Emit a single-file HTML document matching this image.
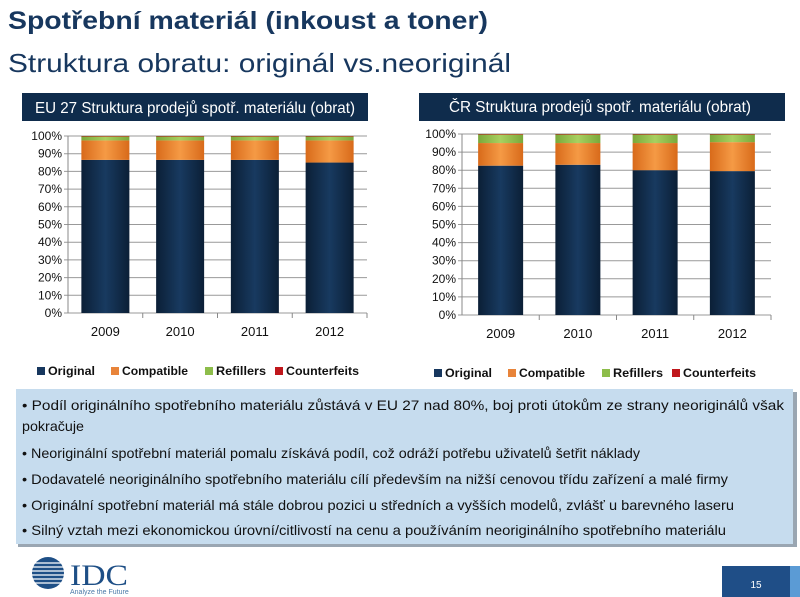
<!DOCTYPE html>
<html><head><meta charset="utf-8"><style>
body{margin:0;background:#fff;}
svg{display:block;font-family:"Liberation Sans",sans-serif;}
</style></head><body>
<svg id="s" width="800" height="597" viewBox="0 0 800 597">
<defs>
<linearGradient id="gNavy" x1="0" x2="1"><stop offset="0" stop-color="#0b1f36"/><stop offset="0.5" stop-color="#183a60"/><stop offset="1" stop-color="#0b1f36"/></linearGradient>
<linearGradient id="gOr" x1="0" x2="1"><stop offset="0" stop-color="#d86a1a"/><stop offset="0.5" stop-color="#f59a45"/><stop offset="1" stop-color="#d86a1a"/></linearGradient>
<linearGradient id="gGr" x1="0" x2="1"><stop offset="0" stop-color="#7aa83a"/><stop offset="0.5" stop-color="#a8d060"/><stop offset="1" stop-color="#7aa83a"/></linearGradient>
<linearGradient id="gRd" x1="0" x2="1"><stop offset="0" stop-color="#a01010"/><stop offset="1" stop-color="#d02020"/></linearGradient>
</defs>
<text x="8" y="29" font-size="25" font-weight="bold" fill="#17375e" textLength="480" lengthAdjust="spacingAndGlyphs">Spotřební materiál (inkoust a toner)</text>
<text x="8" y="72" font-size="26" fill="#17375e" textLength="503" lengthAdjust="spacingAndGlyphs">Struktura obratu: originál vs.neoriginál</text>

<rect x="22" y="93" width="346" height="28" fill="#0f2c4c"/>
<text x="195" y="113" font-size="16" fill="#fff" text-anchor="middle" textLength="320" lengthAdjust="spacingAndGlyphs">EU 27 Struktura prodejů spotř. materiálu (obrat)</text>
<rect x="419" y="93" width="366" height="28" fill="#0f2c4c"/>
<text x="600" y="112" font-size="16" fill="#fff" text-anchor="middle" textLength="302" lengthAdjust="spacingAndGlyphs">ČR Struktura prodejů spotř. materiálu (obrat)</text>

<g id="chartL"></g>
<g id="chartR"></g>

<rect x="18" y="392" width="779" height="155" fill="#9aa6b2"/>
<rect x="16" y="389" width="777" height="155" fill="#c6dcee"/>
<g font-size="14" fill="#111">
<text x="22" y="410" textLength="762" lengthAdjust="spacingAndGlyphs">• Podíl originálního spotřebního materiálu zůstává v EU 27 nad 80%, boj proti útokům ze strany neoriginálů však</text>
<text x="22" y="431" textLength="62" lengthAdjust="spacingAndGlyphs">pokračuje</text>
<text x="22" y="458" textLength="618" lengthAdjust="spacingAndGlyphs">• Neoriginální spotřební materiál pomalu získává podíl, což odráží potřebu uživatelů šetřit náklady</text>
<text x="22" y="484" textLength="706" lengthAdjust="spacingAndGlyphs">• Dodavatelé neoriginálního spotřebního materiálu cílí především na nižší cenovou třídu zařízení a malé firmy</text>
<text x="22" y="510" textLength="712" lengthAdjust="spacingAndGlyphs">• Originální spotřební materiál má stále dobrou pozici u středních a vyšších modelů, zvlášť u barevného laseru</text>
<text x="22" y="535" textLength="704" lengthAdjust="spacingAndGlyphs">• Silný vztah mezi ekonomickou úrovní/citlivostí na cenu a používáním neoriginálního spotřebního materiálu</text>
</g>

<g>
<circle cx="48" cy="573" r="16" fill="#1e4f86"/>
<g stroke="#fff" stroke-width="1.3">
<line x1="28" y1="563" x2="68" y2="563"/><line x1="28" y1="567" x2="68" y2="567"/><line x1="28" y1="571" x2="68" y2="571"/><line x1="28" y1="575" x2="68" y2="575"/><line x1="28" y1="579" x2="68" y2="579"/><line x1="28" y1="583" x2="68" y2="583"/></g>
<text x="70" y="585" font-family="Liberation Serif,serif" font-size="30" fill="#1e4f86" textLength="58" lengthAdjust="spacingAndGlyphs">IDC</text>
<text x="70" y="594" font-size="7" fill="#4a79a8">Analyze the Future</text>
</g>
<rect x="722" y="566" width="68" height="31" fill="#1f4e87"/>
<rect x="790" y="566" width="10" height="31" fill="#5b9bd5"/>
<text x="756" y="588" font-size="10" fill="#fff" text-anchor="middle">15</text>
</svg>
<script>
const categories = ["2009","2010","2011","2012"];
const seriesNames = ["Original","Compatible","Refillers","Counterfeits"];
const euOriginal = [86.5, 86.5, 86.5, 85];
const euCompatible = [11, 11, 11, 12.5];
const euRefillers = [2.2, 2.2, 2.2, 2.2];
const euCounterfeits = [0.3, 0.3, 0.3, 0.3];
const crOriginal = [82.5, 83, 80, 79.5];
const crCompatible = [12.5, 12, 15, 16];
const crRefillers = [4.7, 4.7, 4.7, 4.2];
const crCounterfeits = [0.3, 0.3, 0.3, 0.3];
const tickLabels = ["0%","10%","20%","30%","40%","50%","60%","70%","80%","90%","100%"];
const tickValues = [0,10,20,30,40,50,60,70,80,90,100];
const NS = "http://www.w3.org/2000/svg";
const fills = ["url(#gNavy)","url(#gOr)","url(#gGr)","url(#gRd)"];
const legendColors = ["#17375e","#e8843a","#8dbd4a","#c0171c"];
function mk(tag, attrs, parent){const e=document.createElementNS(NS,tag);for(const k in attrs)e.setAttribute(k,attrs[k]);parent.appendChild(e);return e;}
function draw(g, cfg, series, prefix){
  const y = v => cfg.y0 - (cfg.y0 - cfg.y100) * v / 100;
  const step = (cfg.x1 - cfg.x0) / categories.length;
  const x = i => cfg.x0 + step * i + (step - cfg.bw) / 2;
  tickValues.forEach((t, i) => {
    const ln = mk("line",{x1:cfg.x0-4,x2:cfg.x1,y1:y(t),y2:y(t),stroke:"#999","stroke-width":1},g);
    
    
    const tx = mk("text",{x:cfg.x0-6,y:y(t)+4,"font-size":12,"text-anchor":"end",fill:"#111"},g);
    tx.textContent = tickLabels[i];
    
    
  });
  const ax = mk("line",{x1:cfg.x0,x2:cfg.x0,y1:cfg.y100,y2:cfg.y0,stroke:"#888"},g);
  
  
  categories.forEach((c, i) => {
    let acc = 0;
    series.forEach((s, k) => {
      const r = mk("rect",{x:x(i),width:cfg.bw,y:y(acc+s[i]),height:y(acc)-y(acc+s[i]),fill:fills[k]},g);
      
      
      acc += s[i];
    });
    const tk = mk("line",{x1:cfg.x0+step*(i+1),x2:cfg.x0+step*(i+1),y1:cfg.y0,y2:cfg.y0+5,stroke:"#888"},g);
    
    
    const lb = mk("text",{x:x(i)+cfg.bw/2,y:cfg.y0+23,"font-size":13,"text-anchor":"middle",fill:"#111"},g);
    lb.textContent = c;
    
    
  });
  const lx = cfg.legendX; const lpos=[0,74,168,238]; const lw=[47,66,50,73];
  seriesNames.forEach((n, k) => {
    const sq = mk("rect",{x:lx+lpos[k],y:cfg.legendY-8,width:8,height:8,fill:legendColors[k]},g);
    
    
    const t = mk("text",{x:lx+lpos[k]+11,y:cfg.legendY,"font-size":12,"font-weight":"bold",fill:"#111",textLength:lw[k],lengthAdjust:"spacingAndGlyphs"},g);
    t.textContent = n;
    
    
  });
}
draw(document.getElementById("chartL"), {x0:68,x1:367,y0:313,y100:136,bw:48,legendX:37,legendY:375},
  [euOriginal, euCompatible, euRefillers, euCounterfeits], "eu");
draw(document.getElementById("chartR"), {x0:462,x1:771,y0:315,y100:134,bw:45,legendX:434,legendY:377},
  [crOriginal, crCompatible, crRefillers, crCounterfeits], "cr");
</script>
</body></html>
